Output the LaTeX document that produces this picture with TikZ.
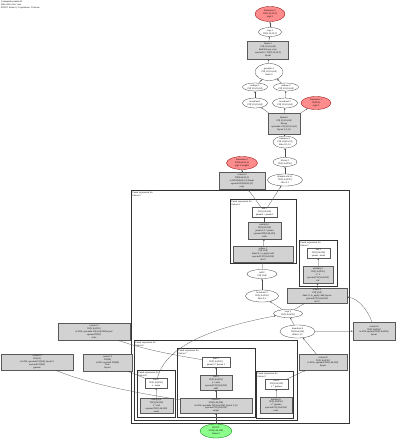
\documentclass[tikz,border=0pt]{standalone}
\usepackage{fontspec}
\setmainfont{Liberation Serif}
\usetikzlibrary{shapes.geometric,arrows.meta}
\tikzset{
  lab/.style={font=\fontsize{2.4}{2.9}\selectfont, align=center, inner sep=0pt},
  ell/.style={lab, ellipse, draw=black!75, line width=0.3pt, fill=white},
  redell/.style={lab, ellipse, draw=red!55!black, fill=red!45!white, line width=0.3pt},
  grnell/.style={lab, ellipse, draw=green!45!black, fill=green!45!white, line width=0.3pt},
  gbox/.style={lab, rectangle, draw=gray!70!black, fill=gray!35, line width=0.3pt},
  wbox/.style={lab, rectangle, draw=gray!70!black, fill=white, line width=0.3pt},
  clus/.style={draw=black!80, line width=0.6pt},
  cluslab/.style={lab, anchor=north west, align=left},
  edge/.style={draw=gray!60!black, line width=0.25pt, -{Stealth[length=1.8pt,width=1.4pt]}},
}
\begin{document}
\begin{tikzpicture}[x=1pt,y=-1pt]
\useasboundingbox (0,0) rectangle (400,439);
\fill[white] (0,0) rectangle (400,439);
\node[cluslab] (title) at (1,1) {Computation main.42\\Side-effect free: true\\ROOT: fusion.3, 5 operations, 3 fusions};

% top chain
\node[redell, minimum width=30pt, minimum height=15pt] (n1) at (270,14) {Parameter 0\\f32[1,32,32,3]\\arg0.1};
\node[ell, minimum width=23pt, minimum height=9pt] (n2) at (270,32) {copy.1\\f32[1,32,32,3]};
\node[gbox, minimum width=41pt, minimum height=18pt] (n3) at (268,50) {fusion.1\\f32[1,16,16,64]\\kind=kLoop, conv\\operand 0 = f32[1,32,32,3]\\layout};
\node[ell, minimum width=28pt, minimum height=17pt] (n4) at (269,72) {get-tuple.1\\f32[1,16,16,64]\\index 0};
\node[ell, minimum width=25pt, minimum height=8pt] (n5a) at (255,87) {reshape.1\\f32[1,16,16,64]};
\node[ell, minimum width=25pt, minimum height=8pt] (n5b) at (286,87) {reshape.2\\f32[1,16,16,64]};
\node[ell, minimum width=25pt, minimum height=10pt] (n6a) at (255,103) {broadcast.1\\f32[1,16,16,64]};
\node[ell, minimum width=25pt, minimum height=10pt] (n6b) at (285,103) {broadcast.2\\f32[1,16,16,64]};
\node[redell, minimum width=30pt, minimum height=13pt] (n6c) at (316,103) {Parameter 1\\f32[64]\\arg1.2};
\node[gbox, minimum width=32pt, minimum height=21pt] (n7) at (284,124) {fusion.2\\f32[1,16,16,64]\\kLoop\\operands: f32[1,16,16,64]\\layout {3,2,1,0}};
\node[ell, minimum width=24pt, minimum height=12pt] (n8) at (285,142) {transpose.1\\f32[1,64,16,16]\\dims 0,3,1,2};
\node[ell, minimum width=24pt, minimum height=9pt] (n9) at (285,162) {bitcast.1\\f32[1,64,256]};
\node[redell, minimum width=31pt, minimum height=13pt] (n10) at (242,163) {Parameter 2\\f32[64,64,3,3]\\arg2.3 weights};
\node[gbox, minimum width=46pt, minimum height=17pt] (n11) at (242,181) {convert.2\\f32[64,64,3,3]\\to bf16[64,64,3,3] layout\\operand f32[64,64,3,3]\\copy};
\node[ell, minimum width=35pt, minimum height=12pt] (n12) at (285,180) {dynamic-slice.1\\f32[1,64,256]\\slice 0:1};

% outer cluster
\draw[clus] (131,190) rectangle (349,423);
\node[cluslab] (lo) at (132.5,191.5) {Fused expression for\\fusion.3};

% cluster A
\draw[clus] (230,199) rectangle (296,263);
\node[cluslab] (la) at (231.5,200.5) {Fused expression for\\fusion.4};
\node[wbox, minimum width=25pt, minimum height=10pt] (a1) at (264.5,212) {add.1\\f32[1,64,256]\\param0 + param1};
\node[gbox, minimum width=33pt, minimum height=17pt] (a2) at (264.5,230.5) {multiply.1\\f32[1,64,256]\\param 0.1 * param\\operand f32[1,64,256]\\scale};
\node[gbox, minimum width=60pt, minimum height=16pt] (a3) at (263,254) {reduce.1\\f32[1,64]\\dims={2}, to\_apply=add\\operand f32[1,64,256]\\init 0};

% cluster B
\draw[clus] (299,240) rectangle (337,286);
\node[cluslab] (lb) at (300.5,241.5) {Fused expression for\\fusion.5};
\node[wbox, minimum width=23pt, minimum height=10pt] (b1) at (318.5,253) {sub.1\\f32[1,64,256]\\param - mean};
\node[gbox, minimum width=30pt, minimum height=17pt] (b2) at (318,274.5) {multiply.2\\f32[1,64,256]\\x * x\\operand f32[1,64,256]\\var};
\node[gbox, minimum width=60pt, minimum height=15pt] (b3) at (317,295.5) {reduce.2\\f32[1,64]\\dims={2}, to\_apply=add, layout\\operand f32[1,64,256]\\init 0};

\node[ell, minimum width=30pt, minimum height=9pt] (e1) at (262,274) {add.2\\f32[1,64]};
\node[ell, minimum width=33pt, minimum height=12pt] (e2) at (262,296) {broadcast.3\\f32[1,64,256]\\dims 0,1};
\node[ell, minimum width=29pt, minimum height=8pt] (e3) at (288,313.5) {rsqrt.1\\f32[1,64,256]};
\node[ell, minimum width=35pt, minimum height=13pt] (e4) at (297.5,331.5) {broadcast.4\\f32[1,64,256]\\dims 0,1,2};

% outside boxes
\node[gbox, minimum width=72pt, minimum height=17pt] (l1) at (94,331.5) {convert.3\\f32[1,64,256]\\to bf16, operands f32[1,64,256] layout\\operand f32[1]\\scale};
\node[gbox, minimum width=72pt, minimum height=16pt] (l2) at (37,362) {convert.4\\f32[64]\\to bf16, operands f32[64], layout {0}\\operand f32[64]\\gamma};
\node[gbox, minimum width=49pt, minimum height=17pt] (l3) at (107.5,362.5) {convert.5\\f32[64]\\to bf16 operand f32[64]\\beta\\layout};
\node[gbox, minimum width=42pt, minimum height=18pt] (r1) at (374,331) {convert.6\\f32[1,64,256]\\to bf16 operand f32[1,64,256]\\layout};

% cluster 2
\draw[clus] (134,340) rectangle (297,420);
\node[cluslab] (l2c) at (135.5,341.5) {Fused expression for\\fusion.6};
% cluster 3
\draw[clus] (177,348) rectangle (255,417);
\node[cluslab] (l3c) at (178.5,349.5) {Fused expression for\\fusion.7};
\node[wbox, minimum width=28pt, minimum height=10pt] (c3a) at (216,362) {mul.3\\f32[1,64,256]\\param 0 * param 1};
\node[gbox, minimum width=32pt, minimum height=15pt] (c3b) at (216,382.5) {add.4\\f32[1,64,256]\\x + beta\\operand f32[1,64,256]\\shift};
\node[gbox, minimum width=72pt, minimum height=15pt] (c3c) at (216,405.5) {convert.7\\bf16[1,64,256]\\to bf16, operands f32[1,64,256], layout {2,1,0}\\operand f32[1,64,256]\\output};
% cluster 4
\draw[clus] (137,370) rectangle (175,417);
\node[cluslab] (l4c) at (138.5,371.5) {Fused expression for\\fusion.8};
\node[wbox, minimum width=22pt, minimum height=10pt] (c4a) at (156,383) {sub.2\\f32[1,64,256]\\x - mean};
\node[gbox, minimum width=33pt, minimum height=15pt] (c4b) at (156.5,405.5) {multiply.4\\f32[1,64,256]\\x * rstd\\operand f32[1,64,256]\\norm};
% cluster 5
\draw[clus] (256,371) rectangle (293,418);
\node[cluslab] (l5c) at (257.5,372.5) {Fused expression for\\fusion.9};
\node[wbox, minimum width=23pt, minimum height=10pt] (c5a) at (276.5,384) {mul.5\\f32[1,64,256]\\x * gamma};
\node[gbox, minimum width=32pt, minimum height=16pt] (c5b) at (276,405) {multiply.6\\f32[1,64,256]\\x * gamma\\operand f32[1,64,256]\\scale};
\node[gbox, minimum width=48pt, minimum height=16pt] (g) at (323,362) {convert.8\\f32[1,64,256]\\to bf16, operands f32[1,64,256]\\layout};

\node[grnell, minimum width=32pt, minimum height=14pt] (out) at (216,431) {ROOT\\bf16[1,64,256]\\fusion.3};

% edges
\draw[edge] (n2) -- (n1);
\draw[edge] (n3) -- (n2);
\draw[edge] (n4) -- (n3);
\draw[edge] (n5a) -- (n4);
\draw[edge] (n5b) -- (n4);
\draw[edge] (n6a) -- (n5a);
\draw[edge] (n6b) -- (n5b);
\draw[edge] (n7) -- (n6a);
\draw[edge] (n7) -- (n6b);
\draw[edge] (n7) -- (n6c);
\draw[edge] (n8) -- (n7);
\draw[edge] (n9) -- (n8);
\draw[edge] (n12) -- (n9);
\draw[edge] (n11) -- (n10);
\draw[edge] (a1) -- (n11);
\draw[edge] (a1) -- (n12);
\draw[edge] (a2) -- (a1);
\draw[edge] (a3) -- (a2);
\draw[edge] (e1) -- (a3);
\draw[edge] (e2) -- (e1);
\draw[edge] (b2) -- (b1);
\draw[edge] (b3) -- (b2);
\draw[edge] (e3) -- (e2);
\draw[edge] (e3) -- (b3);
\draw[edge] (e4) -- (e3);
\draw[edge] (c3b) -- (c3a);
\draw[edge] (c3c) -- (c3b);
\draw[edge] (c4b) -- (c4a);
\draw[edge] (c5b) -- (c5a);
\draw[edge] (out) -- (c3c);
\draw[edge] (g) -- (e4);
\draw[edge] (c5a) -- (g);
\draw[edge] (c4a) .. controls (165,350) and (200,330) .. (e3);
\draw[edge] (c3a) .. controls (180,356) and (145,350) .. (l1);
\draw[edge] (c4a) -- (l3);
\draw[edge] (c3c) .. controls (150,395) and (90,385) .. (l2);
\draw[edge] (r1) .. controls (370,315) and (360,298) .. (b3);
\draw[edge] (e4) -- (r1);
\end{tikzpicture}
\end{document}
